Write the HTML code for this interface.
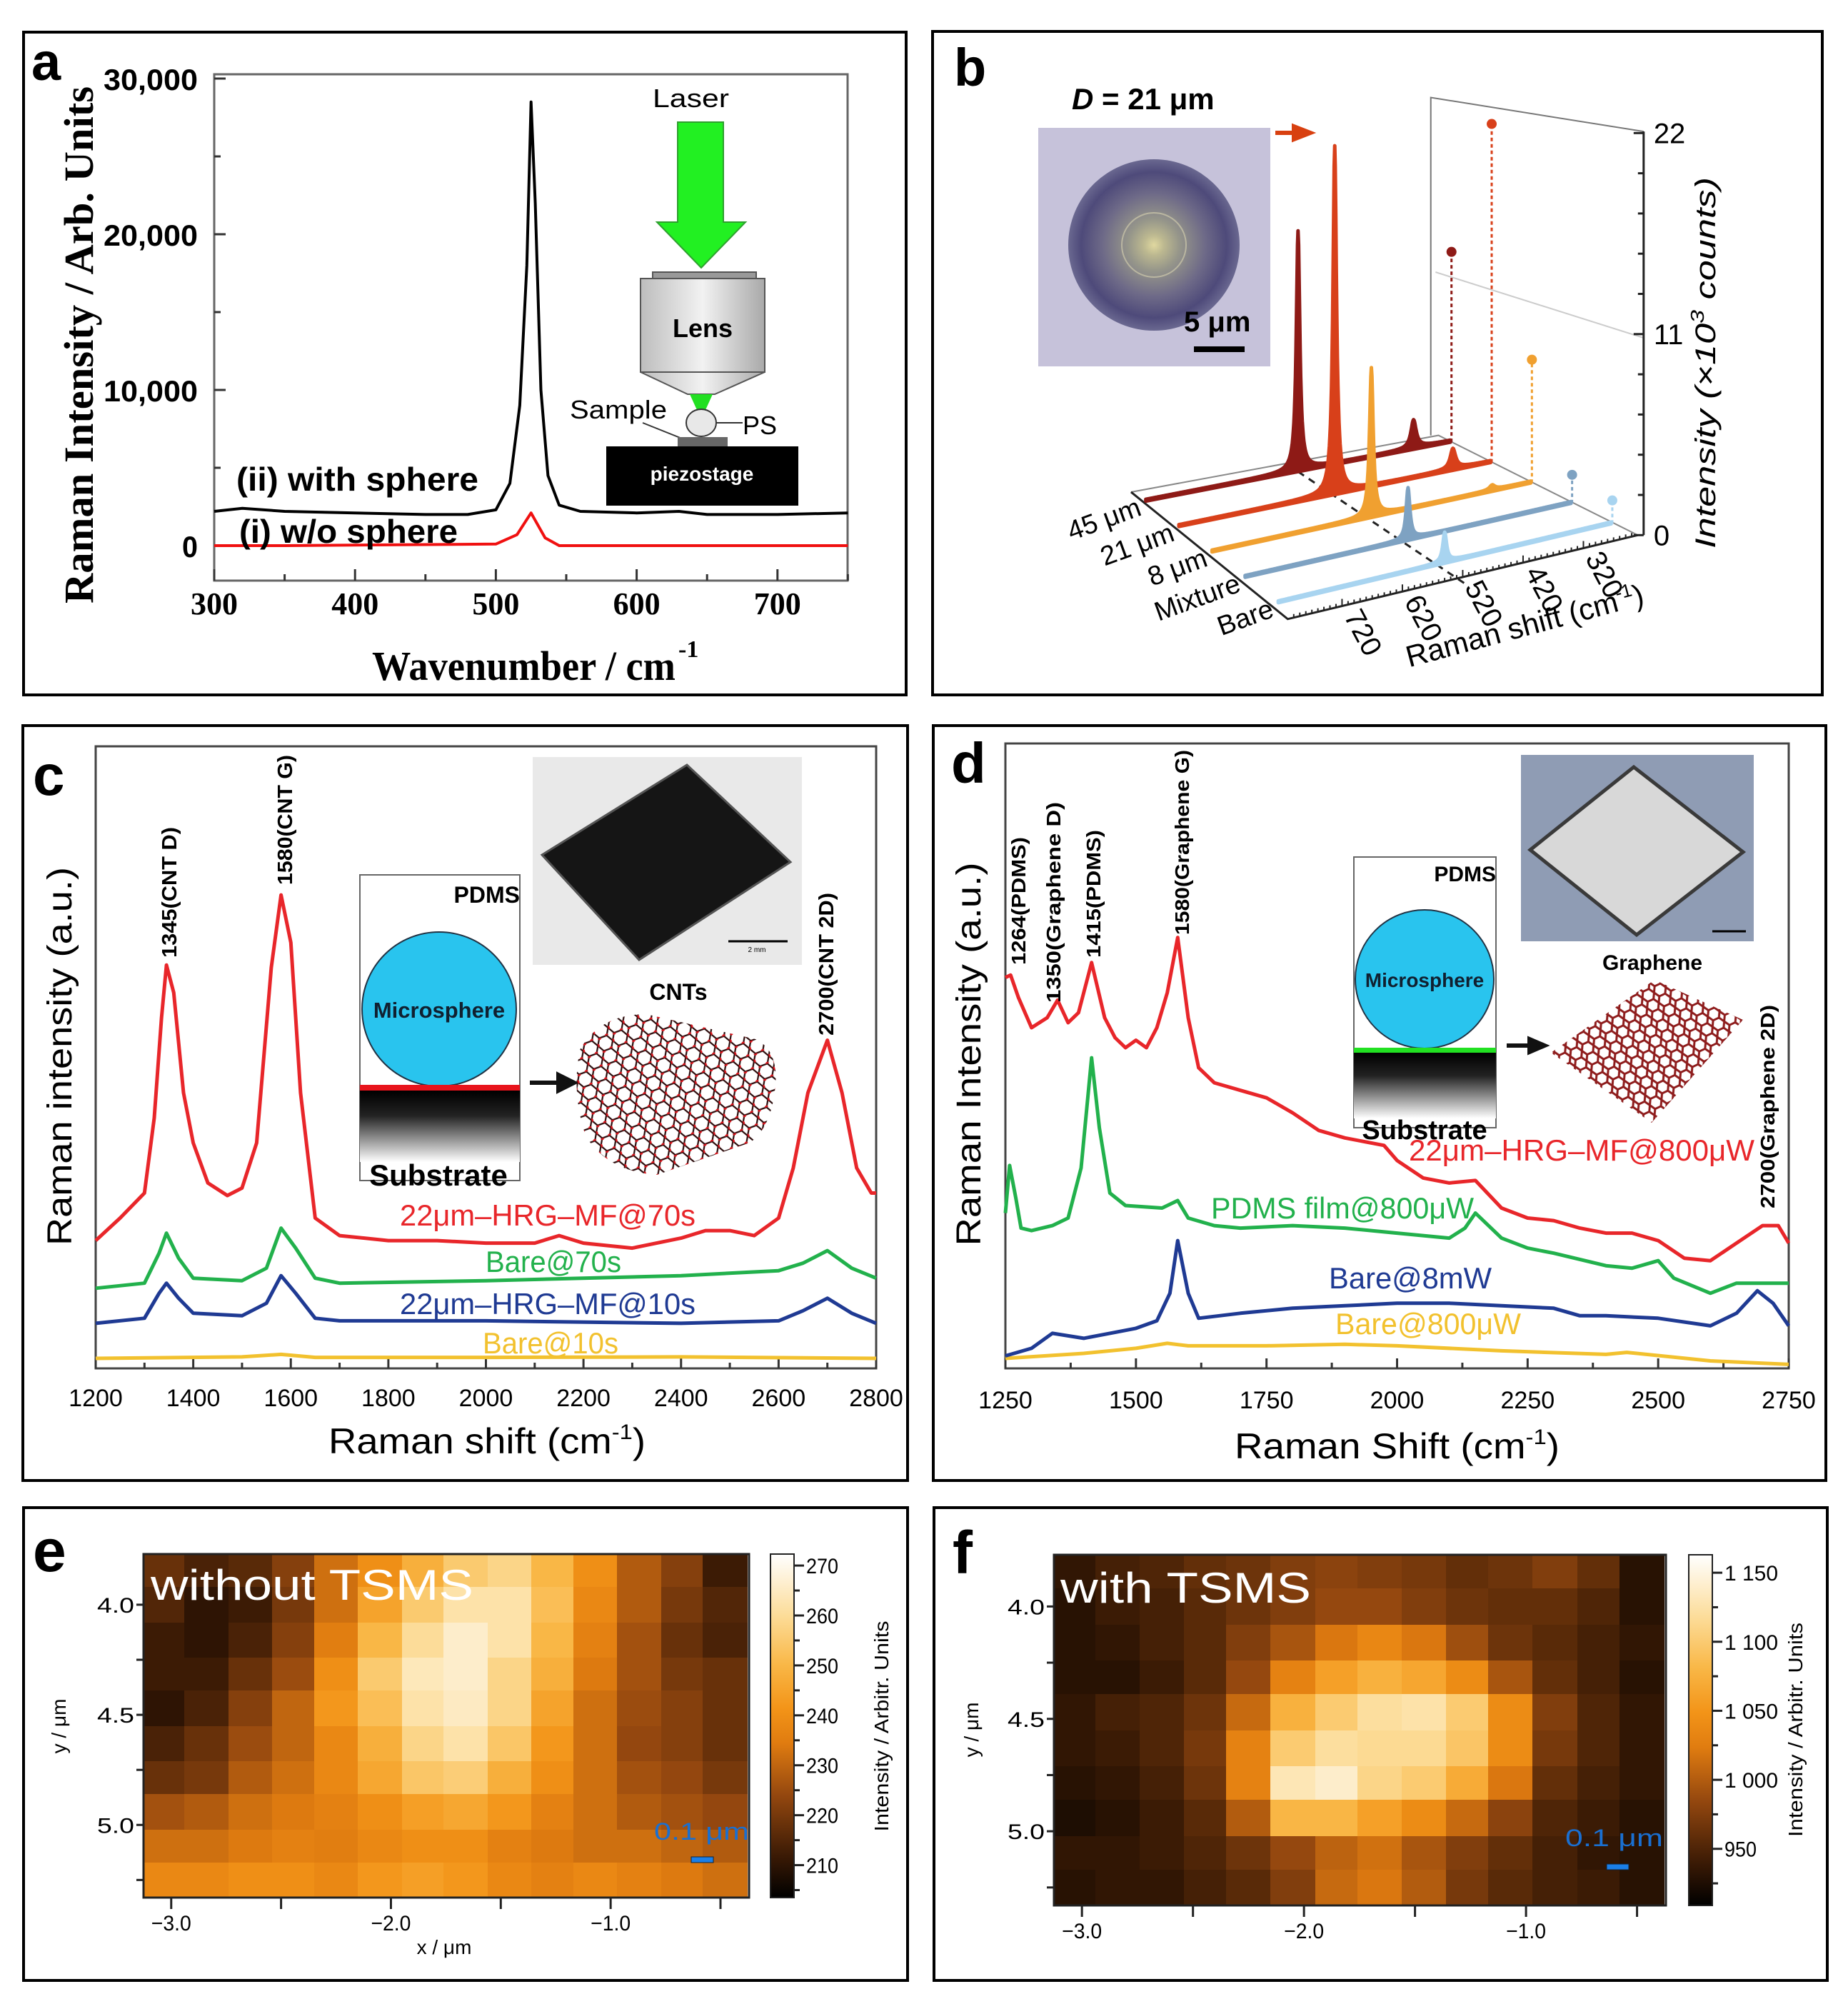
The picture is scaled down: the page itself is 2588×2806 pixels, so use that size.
<!DOCTYPE html>
<html><head><meta charset="utf-8"><title>Raman figure</title>
<style>
html,body{margin:0;padding:0;background:#fff;}
svg{display:block;}
.sans{font-family:"Liberation Sans",sans-serif;}
.serif{font-family:"Liberation Serif",serif;}
</style></head>
<body>
<svg id="fig" xmlns="http://www.w3.org/2000/svg" width="2588" height="2806" viewBox="0 0 2588 2806">
<defs>
  <linearGradient id="lensGrad" x1="0" x2="1" y1="0" y2="0"><stop offset="0" stop-color="#bdbdbd"/><stop offset="0.5" stop-color="#f2f2f2"/><stop offset="1" stop-color="#a9a9a9"/></linearGradient>
  <linearGradient id="subGrad" x1="0" x2="0" y1="0" y2="1"><stop offset="0" stop-color="#000"/><stop offset="0.35" stop-color="#222"/><stop offset="1" stop-color="#fff"/></linearGradient>
  <radialGradient id="sphereB" cx="0.5" cy="0.5" r="0.5"><stop offset="0" stop-color="#e0d8a0"/><stop offset="0.12" stop-color="#bcb890"/><stop offset="0.3" stop-color="#96968a"/><stop offset="0.6" stop-color="#6e6a88"/><stop offset="0.85" stop-color="#4e4a7a"/><stop offset="1" stop-color="#6a6890"/></radialGradient>
  <linearGradient id="cmapE" x1="0" x2="0" y1="1" y2="0"><stop offset="0" stop-color="#000"/><stop offset="0.12" stop-color="#3a1a05"/><stop offset="0.3" stop-color="#95480f"/><stop offset="0.45" stop-color="#e07c10"/><stop offset="0.55" stop-color="#f39418"/><stop offset="0.68" stop-color="#f9b848"/><stop offset="0.82" stop-color="#fcdc98"/><stop offset="1" stop-color="#fff"/></linearGradient>
  <pattern id="hexPat" width="18" height="15.6" patternUnits="userSpaceOnUse" patternTransform="rotate(-25)">
    <rect width="18" height="15.6" fill="#fff"/>
    <path d="M0 7.8 L4.5 0 L13.5 0 L18 7.8 L13.5 15.6 L4.5 15.6 Z" fill="none" stroke="#8e1c1c" stroke-width="3"/>
  </pattern>
  <pattern id="tubePat" width="22" height="19" patternUnits="userSpaceOnUse" patternTransform="rotate(-20)">
    <path d="M0 9.5 L5.5 0 L16.5 0 L22 9.5 L16.5 19 L5.5 19 Z" fill="none" stroke="#2a0a0a" stroke-width="2.2"/>
    <circle cx="5.5" cy="0" r="2.6" fill="#d8141c"/><circle cx="16.5" cy="19" r="2.6" fill="#d8141c"/><circle cx="0" cy="9.5" r="2.6" fill="#d8141c"/>
  </pattern>
</defs>

<!-- ============ PANEL A ============ -->
<g>
  <rect x="33" y="45" width="1236" height="928" fill="none" stroke="#000" stroke-width="4"/>
  <text x="44" y="112" class="sans" font-size="74" font-weight="bold">a</text>
  <rect x="300" y="104" width="887" height="709" fill="none" stroke="#666" stroke-width="3"/>
  <g id="aTicks"></g>
  <text transform="translate(130,483) rotate(-90)" text-anchor="middle" class="serif" font-size="58" font-weight="bold" textLength="724" lengthAdjust="spacingAndGlyphs">Raman Intensity / Arb. Units</text>
  <text x="521" y="952" class="serif" font-size="58" font-weight="bold" textLength="425" lengthAdjust="spacingAndGlyphs">Wavenumber / cm</text>
  <text x="950" y="920" class="serif" font-size="34" font-weight="bold">-1</text>
  <g id="aSeries"></g>
  <text x="331" y="687" class="sans" font-size="46" font-weight="bold" textLength="339" lengthAdjust="spacingAndGlyphs">(ii) with sphere</text>
  <text x="335" y="760" class="sans" font-size="46" font-weight="bold" textLength="306" lengthAdjust="spacingAndGlyphs">(i) w/o sphere</text>
  <g>
    <text x="914" y="150" class="sans" font-size="36" textLength="107" lengthAdjust="spacingAndGlyphs">Laser</text>
    <path d="M949 171 L1013 171 L1013 311 L1044 311 L982 375 L920 311 L949 311 Z" fill="#22f022" stroke="#2fa02f" stroke-width="2"/>
    <rect x="914" y="381" width="145" height="9" fill="#999" stroke="#555" stroke-width="2"/>
    <rect x="897" y="390" width="174" height="131" fill="url(#lensGrad)" stroke="#555" stroke-width="2"/>
    <path d="M897 521 L1071 521 L1001 552 L963 552 Z" fill="url(#lensGrad)" stroke="#555" stroke-width="2"/>
    <text x="984" y="472" text-anchor="middle" class="sans" font-size="36" font-weight="bold">Lens</text>
    <path d="M966 552 L998 552 L988 574 L976 574 Z" fill="#22e022"/>
    <ellipse cx="982" cy="592" rx="21" ry="19" fill="#e8e8e8" stroke="#333" stroke-width="2"/>
    <line x1="1003" y1="592" x2="1040" y2="592" stroke="#333" stroke-width="2"/>
    <text x="1040" y="608" class="sans" font-size="36">PS</text>
    <text x="798" y="586" class="sans" font-size="36" textLength="136" lengthAdjust="spacingAndGlyphs">Sample</text>
    <line x1="900" y1="592" x2="955" y2="614" stroke="#333" stroke-width="2"/>
    <rect x="949" y="612" width="70" height="13" fill="#666"/>
    <rect x="849" y="625" width="269" height="83" fill="#000"/>
    <text x="983" y="673" text-anchor="middle" class="sans" font-size="28" font-weight="bold" fill="#fff">piezostage</text>
  </g>
</g>

<!-- ============ PANEL B ============ -->
<g>
  <rect x="1306" y="44" width="1246" height="929" fill="none" stroke="#000" stroke-width="4"/>
  <text x="1336" y="120" class="sans" font-size="74" font-weight="bold">b</text>
  <text x="1501" y="153" class="sans" font-size="42" font-weight="bold"><tspan font-style="italic">D</tspan> = 21 μm</text>
  <rect x="1454" y="179" width="325" height="334" fill="#c6c2da"/>
  <circle cx="1616" cy="343" r="120" fill="url(#sphereB)"/>
  <circle cx="1616" cy="343" r="45" fill="none" stroke="#d8d4b0" stroke-width="2" opacity="0.6"/>
  <text x="1658" y="464" class="sans" font-size="40" font-weight="bold">5 μm</text>
  <rect x="1672" y="485" width="71" height="8" fill="#000"/>
  <path d="M1786 186 L1822 186 M1812 177 L1835 186 L1812 195 Z" stroke="#d84010" stroke-width="6" fill="#d84010"/>
  <g id="b3d"></g>
  <text transform="translate(2402,508) rotate(-90)" text-anchor="middle" class="sans" font-size="40" font-style="italic" textLength="520" lengthAdjust="spacingAndGlyphs">Intensity (×10<tspan font-size="26" dy="-16">3</tspan><tspan dy="16"> counts)</tspan></text>
  <text transform="translate(2139,890) rotate(-15)" text-anchor="middle" class="sans" font-size="42">Raman shift (cm<tspan font-size="26" dy="-16">-1</tspan><tspan dy="16">)</tspan></text>
</g>

<!-- ============ PANEL C ============ -->
<g>
  <rect x="32" y="1016" width="1239" height="1057" fill="none" stroke="#000" stroke-width="4"/>
  <text x="46" y="1113" class="sans" font-size="80" font-weight="bold">c</text>
  <rect x="134" y="1045" width="1093" height="871" fill="none" stroke="#444" stroke-width="3"/>
  <g id="cTicks"></g>
  <text transform="translate(100,1479) rotate(-90)" text-anchor="middle" class="sans" font-size="48" textLength="530" lengthAdjust="spacingAndGlyphs">Raman intensity (a.u.)</text>
  <text x="460" y="2035" class="sans" font-size="50" textLength="444" lengthAdjust="spacingAndGlyphs">Raman shift (cm<tspan font-size="30" dy="-20">-1</tspan><tspan dy="20">)</tspan></text>
  <g>
    <rect x="746" y="1060" width="377" height="291" fill="#e9e9e9"/>
    <path d="M759 1197 L962 1071 L1107 1207 L895 1344 Z" fill="#151515" stroke="#555" stroke-width="3"/>
    <line x1="1020" y1="1318" x2="1103" y2="1318" stroke="#000" stroke-width="3"/>
    <text x="1060" y="1333" text-anchor="middle" class="sans" font-size="10">2 mm</text>
    <rect x="504" y="1225" width="224" height="428" fill="#fff" stroke="#666" stroke-width="2"/>
    <text x="728" y="1264" text-anchor="end" class="sans" font-size="32" font-weight="bold">PDMS</text>
    <circle cx="615" cy="1413" r="108" fill="#29c4ee" stroke="#234" stroke-width="2"/>
    <text x="615" y="1425" text-anchor="middle" class="sans" font-size="31" font-weight="bold" fill="#102030">Microsphere</text>
    <rect x="504" y="1519" width="224" height="8" fill="#e8141c"/>
    <rect x="504" y="1527" width="224" height="100" fill="url(#subGrad)"/>
    <text x="614" y="1660" text-anchor="middle" class="sans" font-size="42" font-weight="bold">Substrate</text>
    <path d="M742 1516 L792 1516 M782 1505 L804 1516 L782 1527 Z" stroke="#111" stroke-width="6" fill="#111"/>
    <text x="950" y="1400" text-anchor="middle" class="sans" font-size="32" font-weight="bold">CNTs</text>
    <path d="M812 1470 Q840 1420 905 1420 L1058 1455 Q1090 1470 1086 1520 Q1080 1580 1050 1600 L920 1645 Q850 1640 820 1590 Q800 1530 812 1470 Z" fill="url(#tubePat)"/>
  </g>
  <g id="cSeries"></g>
  <text x="560" y="1716" class="sans" font-size="42" fill="#e8262a" textLength="414" lengthAdjust="spacingAndGlyphs">22μm–HRG–MF@70s</text>
  <text x="680" y="1781" class="sans" font-size="42" fill="#22b14c" textLength="190" lengthAdjust="spacingAndGlyphs">Bare@70s</text>
  <text x="560" y="1840" class="sans" font-size="42" fill="#1f3a93" textLength="414" lengthAdjust="spacingAndGlyphs">22μm–HRG–MF@10s</text>
  <text x="676" y="1895" class="sans" font-size="42" fill="#f2c12e" textLength="190" lengthAdjust="spacingAndGlyphs">Bare@10s</text>
  <text transform="translate(247,1341) rotate(-90)" class="sans" font-size="29" font-weight="bold" textLength="183" lengthAdjust="spacingAndGlyphs">1345(CNT D)</text>
  <text transform="translate(409,1239) rotate(-90)" class="sans" font-size="29" font-weight="bold" textLength="182" lengthAdjust="spacingAndGlyphs">1580(CNT G)</text>
  <text transform="translate(1167,1450) rotate(-90)" class="sans" font-size="29" font-weight="bold" textLength="200" lengthAdjust="spacingAndGlyphs">2700(CNT 2D)</text>
</g>

<!-- ============ PANEL D ============ -->
<g>
  <rect x="1307" y="1016" width="1250" height="1057" fill="none" stroke="#000" stroke-width="4"/>
  <text x="1332" y="1096" class="sans" font-size="80" font-weight="bold">d</text>
  <rect x="1408" y="1041" width="1097" height="875" fill="none" stroke="#444" stroke-width="3"/>
  <g id="dTicks"></g>
  <text transform="translate(1373,1476) rotate(-90)" text-anchor="middle" class="sans" font-size="48" textLength="537" lengthAdjust="spacingAndGlyphs">Raman Intensity (a.u.)</text>
  <text x="1729" y="2042" class="sans" font-size="50" textLength="455" lengthAdjust="spacingAndGlyphs">Raman Shift (cm<tspan font-size="30" dy="-20">-1</tspan><tspan dy="20">)</tspan></text>
  <g>
    <rect x="2130" y="1057" width="326" height="261" fill="#8f9cb4"/>
    <path d="M2143 1190 L2288 1074 L2441 1193 L2292 1309 Z" fill="#d8d8d8" stroke="#3a3a3a" stroke-width="5"/>
    <line x1="2398" y1="1304" x2="2445" y2="1304" stroke="#000" stroke-width="3"/>
    <rect x="1896" y="1200" width="199" height="379" fill="#fff" stroke="#666" stroke-width="2"/>
    <text x="2095" y="1234" text-anchor="end" class="sans" font-size="30" font-weight="bold">PDMS</text>
    <circle cx="1995" cy="1371" r="97" fill="#29c4ee" stroke="#234" stroke-width="2"/>
    <text x="1995" y="1382" text-anchor="middle" class="sans" font-size="28" font-weight="bold" fill="#102030">Microsphere</text>
    <rect x="1896" y="1467" width="199" height="7" fill="#22e022"/>
    <rect x="1896" y="1474" width="199" height="92" fill="url(#subGrad)"/>
    <text x="1995" y="1595" text-anchor="middle" class="sans" font-size="38" font-weight="bold">Substrate</text>
    <path d="M2110 1464 L2150 1464 M2142 1455 L2163 1464 L2142 1473 Z" stroke="#111" stroke-width="6" fill="#111"/>
    <text x="2314" y="1358" text-anchor="middle" class="sans" font-size="30" font-weight="bold">Graphene</text>
    <path d="M2172 1474 L2317 1372 L2441 1428 L2313 1572 Z" fill="url(#hexPat)"/>
  </g>
  <g id="dSeries"></g>
  <text x="1973" y="1625" class="sans" font-size="42" fill="#e8262a" textLength="484" lengthAdjust="spacingAndGlyphs">22μm–HRG–MF@800μW</text>
  <text x="1696" y="1706" class="sans" font-size="42" fill="#22b14c" textLength="368" lengthAdjust="spacingAndGlyphs">PDMS film@800μW</text>
  <text x="1861" y="1804" class="sans" font-size="42" fill="#1f3a93" textLength="228" lengthAdjust="spacingAndGlyphs">Bare@8mW</text>
  <text x="1870" y="1868" class="sans" font-size="42" fill="#f2c12e" textLength="260" lengthAdjust="spacingAndGlyphs">Bare@800μW</text>
  <text transform="translate(1436,1351) rotate(-90)" class="sans" font-size="28" font-weight="bold" textLength="179" lengthAdjust="spacingAndGlyphs">1264(PDMS)</text>
  <text transform="translate(1485,1404) rotate(-90)" class="sans" font-size="28" font-weight="bold" textLength="281" lengthAdjust="spacingAndGlyphs">1350(Graphene D)</text>
  <text transform="translate(1541,1341) rotate(-90)" class="sans" font-size="28" font-weight="bold" textLength="179" lengthAdjust="spacingAndGlyphs">1415(PDMS)</text>
  <text transform="translate(1665,1309) rotate(-90)" class="sans" font-size="28" font-weight="bold" textLength="259" lengthAdjust="spacingAndGlyphs">1580(Graphene G)</text>
  <text transform="translate(2485,1692) rotate(-90)" class="sans" font-size="28" font-weight="bold" textLength="285" lengthAdjust="spacingAndGlyphs">2700(Graphene 2D)</text>
</g>

<!-- ============ PANEL E ============ -->
<g>
  <rect x="33" y="2111" width="1238" height="662" fill="none" stroke="#000" stroke-width="4"/>
  <text x="46" y="2200" class="sans" font-size="84" font-weight="bold">e</text>
  <g id="eMap" shape-rendering="crispEdges"></g>
  <g id="eAxes"></g>
  <text x="211" y="2240" class="sans" font-size="60" fill="#fff" textLength="452" lengthAdjust="spacingAndGlyphs">without TSMS</text>
  <text x="916" y="2576" class="sans" font-size="34" fill="#1a6fd0" textLength="133" lengthAdjust="spacingAndGlyphs">0.1 μm</text>
  <rect x="968" y="2600" width="31" height="8" fill="#1a7fe8" stroke="#123" stroke-width="1"/>
  <text x="622" y="2736" text-anchor="middle" class="sans" font-size="28">x / μm</text>
  <text transform="translate(92,2417) rotate(-90)" text-anchor="middle" class="sans" font-size="28">y / μm</text>
  <text transform="translate(1244,2417) rotate(-90)" text-anchor="middle" class="sans" font-size="28" textLength="295" lengthAdjust="spacingAndGlyphs">Intensity / Arbitr. Units</text>
</g>

<!-- ============ PANEL F ============ -->
<g>
  <rect x="1308" y="2111" width="1251" height="662" fill="none" stroke="#000" stroke-width="4"/>
  <text x="1334" y="2203" class="sans" font-size="84" font-weight="bold">f</text>
  <g id="fMap" shape-rendering="crispEdges"></g>
  <g id="fAxes"></g>
  <text x="1485" y="2244" class="sans" font-size="60" fill="#fff" textLength="351" lengthAdjust="spacingAndGlyphs">with TSMS</text>
  <text x="2192" y="2585" class="sans" font-size="34" fill="#1a6fd0" textLength="137" lengthAdjust="spacingAndGlyphs">0.1 μm</text>
  <rect x="2250" y="2610" width="31" height="8" fill="#1a7fe8" stroke="#123" stroke-width="1"/>
  <text transform="translate(1370,2422) rotate(-90)" text-anchor="middle" class="sans" font-size="28">y / μm</text>
  <text transform="translate(2524,2422) rotate(-90)" text-anchor="middle" class="sans" font-size="28" textLength="300" lengthAdjust="spacingAndGlyphs">Intensity / Arbitr. Units</text>
</g>
</svg>

<script>
// ---------------- DATA ----------------
// Panel a
const aBlackX = [300,320,350,400,450,480,500,510,517,522,525,528,532,537,545,560,600,630,650,700,750];
const aBlackY = [2200,2400,2200,2100,2000,2000,2300,4000,9000,18000,28500,22000,10000,4500,2600,2200,2100,2200,2000,2000,2100];
const aRedX = [300,350,500,515,525,535,545,750];
const aRedY = [0,0,100,700,2100,500,0,0];
const aXTicks = [300,400,500,600,700];
const aYTicks = [0,10000,20000,30000];
const aYTickLabels = ["0","10,000","20,000","30,000"];

// Panel b (3D waterfall)
const bSeriesNames = ["45 μm","21 μm","8 μm","Mixture","Bare"];
const bPeakCounts = [15.5,22.5,9.6,3.3,1.9];
const bSecondPeak = [1.8,1.3,0.3,0,0];
const bXTicks = [720,620,520,420,320];
const bZTicks = [0,11,22];

// Panel c
const cRedX = [1200,1250,1300,1320,1335,1345,1360,1380,1400,1430,1470,1500,1530,1560,1580,1600,1620,1650,1700,1800,1900,2000,2100,2150,2200,2300,2400,2450,2500,2550,2600,2630,2660,2700,2730,2760,2790,2800];
const cRedY = [25.5,30,35,50,70,80.5,75,55,45,37,34.5,36,45,80,94.5,85,55,30,26.5,25.5,25.5,25,25,26.5,25,24,26,27.5,27.5,26.5,30,40,55,65.5,55,40,35,35];
const cGreenX = [1200,1300,1330,1345,1370,1400,1500,1550,1580,1610,1650,1700,2000,2400,2600,2650,2700,2750,2800];
const cGreenY = [16,17,23,27,22,18,17.5,20,28,24,18,17,17.5,18.5,19.5,21,23.5,20,18];
const cNavyX = [1200,1300,1330,1345,1370,1400,1500,1550,1580,1610,1650,1700,2000,2400,2600,2650,2700,2750,2800];
const cNavyY = [9,10,15,17,14,11,10.5,13,18.5,15,10,9.5,9.5,9,9.5,11.5,14,11,9];
const cYellowX = [1200,1500,1580,1650,2000,2400,2800];
const cYellowY = [2,2.3,2.8,2.2,2.2,2.3,2];
const cXTicks = [1200,1400,1600,1800,2000,2200,2400,2600,2800];

// Panel d
const dRedX = [1250,1260,1275,1300,1330,1350,1370,1390,1415,1440,1460,1480,1500,1520,1540,1560,1580,1600,1620,1650,1700,1750,1800,1850,1900,1950,1975,2000,2050,2100,2150,2200,2250,2300,2350,2400,2450,2500,2550,2600,2650,2700,2730,2750];
const dRedY = [78,78.5,74,68,70,73.5,69,71,81,70,66,64,65.5,64,68,75,86,70,60,57,55.5,54,51,47.5,46,45,44.5,41.5,38,37,37.5,32,30,29.5,28,27,27,25.5,22,21.5,25,28.5,28.5,25];
const dGreenX = [1250,1258,1270,1280,1300,1340,1370,1395,1415,1430,1450,1480,1550,1580,1600,1650,1700,1800,1900,2000,2100,2130,2150,2200,2250,2300,2400,2450,2500,2530,2600,2650,2750];
const dGreenY = [31,40.5,34,28,27.5,28.5,30,40,62,48,35,32.5,32,33.5,30,28.5,28,28.5,28,27,26,28,31,26,24,23,20.5,20,21.5,18,15,17,17];
const dNavyX = [1250,1300,1340,1400,1450,1500,1540,1565,1580,1600,1620,1700,1800,1900,2000,2100,2200,2300,2350,2400,2500,2600,2650,2690,2720,2750];
const dNavyY = [2.5,4,7,6,7,8,9.5,15,25.5,15,10,11,12,12.5,13,13,12.5,12,10.5,10.5,10,8.5,11,15.5,13,8.5];
const dYellowX = [1250,1400,1500,1560,1600,1750,1900,2000,2200,2400,2440,2600,2750];
const dYellowY = [2,3,4,5,4.5,4.5,4.8,4.5,3.5,2.8,3.2,1.5,0.8];
const dXTicks = [1250,1500,1750,2000,2250,2500,2750];

// Panel e / f heatmaps (x, y in μm; values in arbitrary units)
const mapX = [-3.03,-2.84,-2.64,-2.44,-2.25,-2.05,-1.85,-1.66,-1.46,-1.26,-1.07,-0.87,-0.67,-0.48];
const mapY = [3.85,4.0,4.16,4.32,4.47,4.63,4.79,4.94,5.1,5.25];
const eValues = [
 [218,214,216,222,232,240,248,255,258,250,240,228,222,212],
 [215,210,212,220,232,245,255,262,262,252,238,228,220,215],
 [212,210,214,222,235,250,260,266,262,250,236,226,218,214],
 [212,212,218,225,240,255,264,266,258,248,234,226,220,218],
 [210,214,222,230,242,252,262,265,258,245,232,225,222,218],
 [214,218,225,230,238,248,258,262,254,242,232,224,222,218],
 [218,220,228,232,238,246,254,256,248,240,232,226,224,220],
 [226,228,232,234,236,240,244,246,242,236,232,228,226,224],
 [232,232,234,236,235,238,240,240,236,234,232,232,230,228],
 [238,238,240,240,238,242,244,242,238,236,238,236,234,232]
];
const fValues = [
 [935,945,950,960,965,975,980,975,970,960,965,975,960,930],
 [930,940,945,955,965,975,985,985,975,965,960,960,950,930],
 [930,935,945,955,975,995,1020,1035,1020,990,965,955,945,935],
 [930,930,940,955,985,1030,1060,1075,1065,1040,995,960,945,930],
 [935,945,950,965,1010,1075,1100,1120,1125,1100,1040,975,950,935],
 [935,940,950,970,1030,1100,1120,1115,1115,1095,1040,970,950,935],
 [930,935,945,965,1030,1130,1140,1110,1100,1070,1020,960,945,935],
 [925,930,940,955,1000,1080,1080,1060,1040,1010,980,950,940,930],
 [935,935,940,950,965,985,1005,1015,995,975,960,945,935,930],
 [930,935,935,945,955,975,1010,1020,1000,970,955,945,940,930]
];
const mapXTicks = [-3.0,-2.0,-1.0];
const mapXTickLabels = ["−3.0","−2.0","−1.0"];
const mapYTicks = [4.0,4.5,5.0];
const mapYTickLabels = ["4.0","4.5","5.0"];
const eBarTicks = [210,220,230,240,250,260,270];
const fBarTicks = [950,1000,1050,1100,1150];
const fBarTickLabels = ["950","1 000","1 050","1 100","1 150"];

// ---------------- HELPERS ----------------
const NS = "http://www.w3.org/2000/svg";
function mk(parent, tag, attrs, name) {
  const node = document.createElementNS(NS, tag);
  for (const k in attrs) node.setAttribute(k, attrs[k]);
  
  
  parent.appendChild(node);
  return node;
}
function txt(parent, s, attrs, name) {
  const t = mk(parent, 'text', attrs, name);
  t.textContent = s;
  return t;
}
function linePath(xs, ys, fx, fy) {
  return xs.map((v, i) => (i ? 'L' : 'M') + fx(v).toFixed(1) + ' ' + fy(ys[i]).toFixed(1)).join(' ');
}

// ---------------- PANEL A ----------------
const xA = v => 300 + (v - 300) * 1.972;
const yA = v => 764 - v * 0.0218;
(function(){
  const g = document.getElementById('aTicks');
  for (let v = 300; v <= 750; v += 50) {
    const major = v % 100 === 0;
    mk(g, 'line', {x1: xA(v), x2: xA(v), y1: 813, y2: 813 - (major ? 16 : 9), stroke: '#333', 'stroke-width': 3}, 'a-x-tick');
  }
  aXTicks.forEach(v => txt(g, String(v), {x: xA(v), y: 860, 'text-anchor': 'middle', class: 'serif', 'font-size': 44, 'font-weight': 'bold'}, 'a-x-tick-label'));
  for (let v = 0; v <= 30000; v += 5000) {
    const major = v % 10000 === 0;
    mk(g, 'line', {x1: 300, x2: 300 + (major ? 16 : 9), y1: yA(v), y2: yA(v), stroke: '#333', 'stroke-width': 3}, 'a-y-tick');
  }
  aYTicks.forEach((v, i) => txt(g, aYTickLabels[i], {x: 277, y: yA(v) + 16, 'text-anchor': 'end', class: 'sans', 'font-size': 42, 'font-weight': 'bold', textLength: i ? 132 : 22, lengthAdjust: 'spacingAndGlyphs'}, 'a-y-tick-label'));
  const s = document.getElementById('aSeries');
  mk(s, 'path', {d: linePath(aBlackX, aBlackY, xA, yA), fill: 'none', stroke: '#000', 'stroke-width': 4, 'stroke-linejoin': 'round'}, 'series-with-sphere');
  mk(s, 'path', {d: linePath(aRedX, aRedY, xA, yA), fill: 'none', stroke: '#f01010', 'stroke-width': 4, 'stroke-linejoin': 'round'}, 'series-without-sphere');
})();

// ---------------- PANEL B ----------------
(function(){
  const g = document.getElementById('b3d');
  const bx = z => 1290 + z * 0.828;
  const by = z => z * 0.635;
  const colors = ['#8e1a16', '#d8401a', '#f0a030', '#7ea2c2', '#a8d4f0'];
  const L = i => [380 + 56 * i, 1105 + 56 * i];
  const R = i => [895 + 68 * i, 975 + 45 * i];
  const tOf = s => (810 - s) / 580;
  const P = (i, s) => { const l = L(i), r = R(i), t = tOf(s); return [l[0] + t * (r[0] - l[0]), l[1] + t * (r[1] - l[1])]; };
  const yZ = v => 1180 - v * 40.3;
  const K = 34;
  mk(g, 'path', {d: `M${bx(862)} ${by(960)} L${bx(862)} ${by(215)} L${bx(1222)} ${by(290)}`, fill: 'none', stroke: '#777', 'stroke-width': 2}, 'b-back-wall');
  mk(g, 'line', {x1: bx(870), y1: by(600), x2: bx(1222), y2: by(745), stroke: '#ccc', 'stroke-width': 2}, 'b-grid-line');
  mk(g, 'path', {d: `M${bx(355)} ${by(1085)} L${bx(875)} ${by(960)} L${bx(1212)} ${by(1180)}`, fill: 'none', stroke: '#888', 'stroke-width': 2}, 'b-floor-back');
  mk(g, 'path', {d: `M${bx(355)} ${by(1085)} L${bx(620)} ${by(1365)} L${bx(1212)} ${by(1180)}`, fill: 'none', stroke: '#222', 'stroke-width': 3}, 'b-floor-front');
  mk(g, 'line', {x1: bx(1222), y1: by(290), x2: bx(1222), y2: by(1180), stroke: '#222', 'stroke-width': 3}, 'b-z-axis');
  for (let v = 0; v <= 22.01; v += 2.2) mk(g, 'line', {x1: bx(1222), x2: bx(1222) - (Math.abs(v % 11) < 0.01 || Math.abs(v % 11 - 11) < 0.01 ? 14 : 8), y1: by(yZ(v)), y2: by(yZ(v)), stroke: '#222', 'stroke-width': 3}, 'b-z-tick');
  bZTicks.forEach(v => txt(g, String(v), {x: bx(1222) + 14, y: by(yZ(v)) + 14, class: 'sans', 'font-size': 40}, 'b-z-tick-label'));
  const d0 = P(0, 520), d4 = P(4, 520);
  mk(g, 'line', {x1: bx(d0[0]), y1: by(d0[1]), x2: bx(d4[0] + 40), y2: by(d4[1] + 50), stroke: '#222', 'stroke-width': 3, 'stroke-dasharray': '10 8'}, 'b-520-guide');
  for (let i = 0; i < bSeriesNames.length; i++) {
    const pts = [];
    for (let s = 810; s >= 230; s -= 1) {
      const base = P(i, s);
      const g1 = 4, g2 = 6;
      const h = K * (bPeakCounts[i] * g1 * g1 / ((s - 520) ** 2 + g1 * g1) + bSecondPeak[i] * g2 * g2 / ((s - 300) ** 2 + g2 * g2));
      pts.push([bx(base[0]), by(base[1] - h - 4)]);
    }
    const l = L(i), r = R(i);
    const d = 'M' + pts.map(p => p[0].toFixed(1) + ' ' + p[1].toFixed(1)).join(' L') + ` L${bx(r[0])} ${by(r[1])} L${bx(l[0])} ${by(l[1])} Z`;
    mk(g, 'path', {d: d, fill: colors[i], stroke: colors[i], 'stroke-width': 5, 'stroke-linejoin': 'round'}, 'b-series-' + i);
    mk(g, 'line', {x1: bx(r[0] + 2), y1: by(r[1]), x2: bx(r[0] + 2), y2: by(yZ(bPeakCounts[i])), stroke: colors[i], 'stroke-width': 3, 'stroke-dasharray': '5 4'}, 'b-stem-' + i);
    mk(g, 'circle', {cx: bx(r[0] + 2), cy: by(yZ(bPeakCounts[i])), r: 7, fill: colors[i]}, 'b-stem-dot-' + i);
    txt(g, bSeriesNames[i], {x: 0, y: 0, transform: `translate(${bx(l[0] - 5)},${by(l[1] + 30)}) rotate(-20)`, 'text-anchor': 'end', class: 'sans', 'font-size': 38}, 'b-series-label');
  }
  for (let s = 800; s >= 240; s -= 10) {
    const t = tOf(s);
    const fx = 620 + t * (1212 - 620), fy = 1365 + t * (1180 - 1365);
    mk(g, 'line', {x1: bx(fx), y1: by(fy), x2: bx(fx), y2: by(fy) - (s % 100 === 20 ? 10 : 5), stroke: '#222', 'stroke-width': 2}, 'b-x-tick');
  }
  bXTicks.forEach(s => {
    const t = tOf(s);
    const fx = 620 + t * (1212 - 620), fy = 1365 + t * (1180 - 1365);
    txt(g, String(s), {x: 0, y: 0, transform: `translate(${bx(fx) + 2},${by(fy) + 14}) rotate(62)`, class: 'sans', 'font-size': 40}, 'b-x-tick-label');
  });
})();

// ---------------- PANEL C ----------------
const xC = v => 134 + (v - 1200) / 1600 * 1093;
const yC = v => 1916 - v * 7.015;
(function(){
  const g = document.getElementById('cTicks');
  for (let v = 1200; v <= 2800; v += 100) mk(g, 'line', {x1: xC(v), x2: xC(v), y1: 1916, y2: 1916 - (v % 200 === 0 ? 14 : 8), stroke: '#333', 'stroke-width': 3}, 'c-x-tick');
  cXTicks.forEach(v => txt(g, String(v), {x: xC(v), y: 1969, 'text-anchor': 'middle', class: 'sans', 'font-size': 34}, 'c-x-tick-label'));
  const s = document.getElementById('cSeries');
  mk(s, 'path', {d: linePath(cYellowX, cYellowY, xC, yC), fill: 'none', stroke: '#f2c12e', 'stroke-width': 5, 'stroke-linejoin': 'round'}, 'c-series-bare-10s');
  mk(s, 'path', {d: linePath(cNavyX, cNavyY, xC, yC), fill: 'none', stroke: '#1f3a93', 'stroke-width': 5, 'stroke-linejoin': 'round'}, 'c-series-hrg-10s');
  mk(s, 'path', {d: linePath(cGreenX, cGreenY, xC, yC), fill: 'none', stroke: '#22b14c', 'stroke-width': 5, 'stroke-linejoin': 'round'}, 'c-series-bare-70s');
  mk(s, 'path', {d: linePath(cRedX, cRedY, xC, yC), fill: 'none', stroke: '#e8262a', 'stroke-width': 5, 'stroke-linejoin': 'round'}, 'c-series-hrg-70s');
})();

// ---------------- PANEL D ----------------
const xD = v => 1408 + (v - 1250) / 1500 * 1097;
const yD = v => 1916 - v * 7.015;
(function(){
  const g = document.getElementById('dTicks');
  for (let v = 1250; v <= 2750; v += 125) mk(g, 'line', {x1: xD(v), x2: xD(v), y1: 1916, y2: 1916 - ((v - 1250) % 250 === 0 ? 14 : 8), stroke: '#333', 'stroke-width': 3}, 'd-x-tick');
  dXTicks.forEach(v => txt(g, String(v), {x: xD(v), y: 1972, 'text-anchor': 'middle', class: 'sans', 'font-size': 34}, 'd-x-tick-label'));
  const s = document.getElementById('dSeries');
  mk(s, 'path', {d: linePath(dYellowX, dYellowY, xD, yD), fill: 'none', stroke: '#f2c12e', 'stroke-width': 5, 'stroke-linejoin': 'round'}, 'd-series-bare-800uw');
  mk(s, 'path', {d: linePath(dNavyX, dNavyY, xD, yD), fill: 'none', stroke: '#1f3a93', 'stroke-width': 5, 'stroke-linejoin': 'round'}, 'd-series-bare-8mw');
  mk(s, 'path', {d: linePath(dGreenX, dGreenY, xD, yD), fill: 'none', stroke: '#22b14c', 'stroke-width': 5, 'stroke-linejoin': 'round'}, 'd-series-pdms-film');
  mk(s, 'path', {d: linePath(dRedX, dRedY, xD, yD), fill: 'none', stroke: '#e8262a', 'stroke-width': 5, 'stroke-linejoin': 'round'}, 'd-series-hrg-800uw');
})();

// ---------------- HEATMAPS ----------------
const stops = [[0,[0,0,0]],[0.12,[58,26,5]],[0.3,[149,72,15]],[0.45,[224,124,16]],[0.55,[243,148,24]],[0.68,[249,184,72]],[0.82,[252,220,152]],[1,[255,255,255]]];
function cmap(t) {
  t = Math.max(0, Math.min(1, t));
  for (let i = 1; i < stops.length; i++) {
    if (t <= stops[i][0]) {
      const a = stops[i - 1], b = stops[i], f = (t - a[0]) / (b[0] - a[0]);
      return 'rgb(' + a[1].map((c, k) => Math.round(c + f * (b[1][k] - c))).join(',') + ')';
    }
  }
  return 'rgb(255,255,255)';
}
function heatmap(cfg) {
  const {map, axes, x0, x1, y0, y1, vals, vmin, vmax, barX, barTicks, barLabels, prefix} = cfg;
  const xS = v => x0 + (v - (-3.126)) / (2.756) * (x1 - x0);
  const yS = v => y0 + (v - 3.77) / 1.56 * (y1 - y0);
  const dx = 0.197, dy = 0.156;
  vals.forEach((row, r) => row.forEach((v, c) => {
    const xa = Math.max(x0, Math.floor(xS(mapX[c] - dx / 2)));
    const xb = Math.min(x1, Math.ceil(xS(mapX[c] + dx / 2)) + 1);
    const ya = Math.max(y0, Math.floor(yS(mapY[r] - dy / 2)));
    const yb = Math.min(y1, Math.ceil(yS(mapY[r] + dy / 2)) + 1);
    mk(map, 'rect', {x: xa, y: ya, width: xb - xa, height: yb - ya, fill: cmap((v - vmin) / (vmax - vmin))}, prefix + '-cell');
  }));
  mk(axes, 'rect', {x: x0, y: y0, width: x1 - x0, height: y1 - y0, fill: 'none', stroke: '#222', 'stroke-width': 3}, prefix + '-frame');
  for (let v = -3.0; v <= -0.4; v += 0.5) mk(axes, 'line', {x1: xS(v), x2: xS(v), y1: y1, y2: y1 + 16, stroke: '#222', 'stroke-width': 3}, prefix + '-x-tick');
  mapXTicks.forEach((v, i) => txt(axes, mapXTickLabels[i], {x: xS(v), y: y1 + 46, 'text-anchor': 'middle', class: 'sans', 'font-size': 30, textLength: 56, lengthAdjust: 'spacingAndGlyphs'}, prefix + '-x-tick-label'));
  for (let v = 4.0; v <= 5.3; v += 0.25) mk(axes, 'line', {x1: x0, x2: x0 - 10, y1: yS(v), y2: yS(v), stroke: '#222', 'stroke-width': 3}, prefix + '-y-tick');
  mapYTicks.forEach((v, i) => txt(axes, mapYTickLabels[i], {x: x0 - 13, y: yS(v) + 11, 'text-anchor': 'end', class: 'sans', 'font-size': 30, textLength: 52, lengthAdjust: 'spacingAndGlyphs'}, prefix + '-y-tick-label'));
  mk(axes, 'rect', {x: barX, y: y0, width: 33, height: y1 - y0, fill: 'url(#cmapE)', stroke: '#222', 'stroke-width': 2}, prefix + '-colorbar');
  const yB = v => y1 - (v - vmin) / (vmax - vmin) * (y1 - y0);
  const step = (barTicks[1] - barTicks[0]) / 2;
  for (let v = barTicks[0] - step; v <= vmax; v += step) if (v >= vmin) mk(axes, 'line', {x1: barX + 33, x2: barX + 33 + (Math.round((v - barTicks[0]) / step) % 2 === 0 ? 14 : 8), y1: yB(v), y2: yB(v), stroke: '#222', 'stroke-width': 3}, prefix + '-colorbar-tick');
  barTicks.forEach((v, i) => txt(axes, barLabels[i], {x: barX + 50, y: yB(v) + 11, class: 'sans', 'font-size': 30, textLength: barLabels[i].length * 15, lengthAdjust: 'spacingAndGlyphs'}, prefix + '-colorbar-label'));
}
heatmap({map: document.getElementById('eMap'), axes: document.getElementById('eAxes'), x0: 201, x1: 1049, y0: 2176, y1: 2657, vals: eValues, vmin: 203.5, vmax: 272.3, barX: 1079, barTicks: eBarTicks, barLabels: eBarTicks.map(String), prefix: 'e'});
heatmap({map: document.getElementById('fMap'), axes: document.getElementById('fAxes'), x0: 1476, x1: 2333, y0: 2177, y1: 2668, vals: fValues, vmin: 909, vmax: 1163, barX: 2365, barTicks: fBarTicks, barLabels: fBarTickLabels, prefix: 'f'});
</script>
</body></html>
